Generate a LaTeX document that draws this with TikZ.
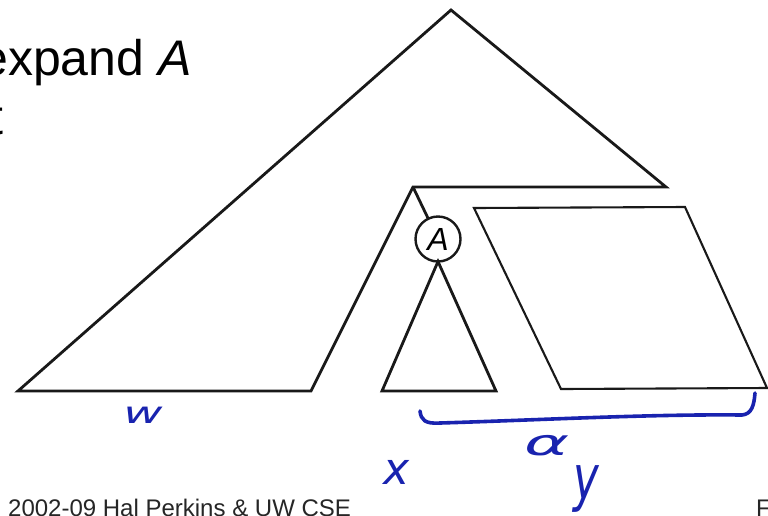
\documentclass[tikz,border=0pt]{standalone}
\usepackage{fontspec}
\setmainfont{Liberation Sans}
\newfontfamily\handfont{DejaVu Sans}
\usetikzlibrary{calc}
\definecolor{ink}{RGB}{25,35,175}
\definecolor{linegray}{RGB}{25,25,25}
\tikzset{
  outline/.style={draw=linegray, line width=2.8pt, line join=miter},
  thinline/.style={draw=linegray, line width=2.1pt, line join=miter},
  circnode/.style={circle, draw=linegray, line width=2.4pt, minimum size=45pt, inner sep=0pt, outer sep=0pt,
                   font=\fontsize{32}{36}\selectfont\itshape},
  pen/.style={draw=ink, line width=3.6pt, line cap=round, line join=round},
  hand/.style={text=ink, inner sep=0pt, anchor=center},
  heading/.style={anchor=base west, inner sep=0pt, font=\fontsize{50}{60}\selectfont},
  footer/.style={anchor=base west, inner sep=0pt, font=\fontsize{24}{28}\selectfont, text=black!85},
}
\begin{document}
\begin{tikzpicture}[x=1pt, y=-1pt]
\useasboundingbox (0,0) rectangle (768,515);
\fill[white] (0,0) rectangle (768,515);

% heading text (cut at the left edge)
\node[heading] (title) at (-20,75) {expand \textit{A}};
\node[heading] (title2) at (-11,134) {t};

% big tree outline
\coordinate (top) at (451,10);
\coordinate (tr)  at (666,187);
\coordinate (nk)  at (413,187);
\coordinate (br)  at (311,391);
\coordinate (bl)  at (18,391);
\draw[outline] (top) -- (tr) -- (nk) -- (br) -- (bl) -- cycle;

% node A and its subtree
\node[circnode] (A) at (438,239) {A};
\draw[outline] (nk) -- (A);
\coordinate (sl) at (382,391);
\coordinate (sr) at (496,391);
\draw[outline] (sl) -- (sr) -- (A.south) -- cycle;

% parallelogram
\coordinate (pa) at (474,208);
\coordinate (pb) at (685,207);
\coordinate (pc) at (767,388);
\coordinate (pd) at (561,389);
\draw[thinline] (pa) -- (pb) -- (pc) -- (pd) -- cycle;

% handwritten annotations
\node[hand] (w) at (143,415) {\scalebox{1.6}[1]{\handfont\itshape\fontsize{30}{32}\selectfont w}};
\coordinate (bs) at (420,411);
\coordinate (be) at (755,393);
\draw[pen] (bs) .. controls (421,420) and (425,424) .. (440,423)
           .. controls (540,420) and (650,414) .. (742,415)
           .. controls (752,414) and (754,405) .. (be);
\node[hand] (alpha) at (547,446) {\scalebox{1.9}[1]{\handfont\itshape\fontsize{36}{38}\selectfont α}};
\node[hand] (xx) at (397,472) {\handfont\itshape\fontsize{44}{46}\selectfont x};
\node[hand] (yy) at (586,489) {\scalebox{0.7}[1]{\handfont\itshape\fontsize{62}{64}\selectfont y}};

% footer
\node[footer] (foot) at (8,516) {2002-09 Hal Perkins \& UW CSE};
\node[footer] (page) at (756,516) {F};
\end{tikzpicture}
\end{document}
